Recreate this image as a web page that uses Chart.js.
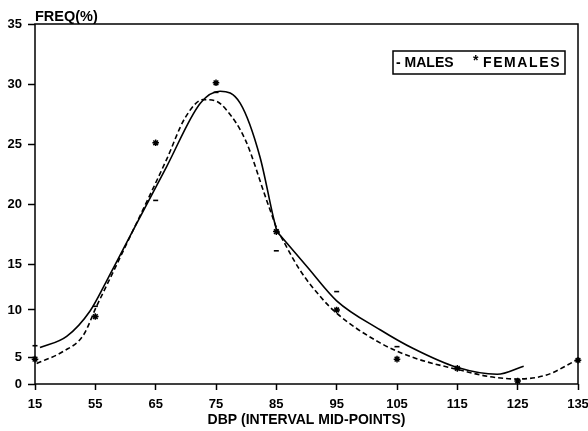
<!DOCTYPE html>
<html><head><meta charset="utf-8">
<script src="https://cdn.jsdelivr.net/npm/chart.js@4.4.0/dist/chart.umd.min.js"></script>
<style>html,body{margin:0;padding:0;background:#fff}#wrap{width:588px;height:431px;position:relative}</style>
</head><body><div id="wrap"><canvas id="c" width="588" height="431"></canvas></div>
<script>
// ---- data ----
const midPoints   = [15, 55, 65, 75, 85, 95, 105, 115, 125, 135];
const xTickLabels = ['15','55','65','75','85','95','105','115','125','135'];
const yTickValues = [0, 5, 10, 15, 20, 25, 30, 35];
const malesObs    = [6.2, 10.4, 20.3, 29.3, 16.1, 12.0, 6.1, 3.0, 0.8, null];
const femalesObs  = [4.6, 9.3, 25.1, 30.1, 17.7, 10.0, 4.6, 2.9, 0.55, 4.4];
// fitted curves (null = break in the curve at the kink at 85)
const maleFitX    = [18.3, 36.0, 51.5, 56.9, 61.25, 66.8, 72.4, 75.7, 79.0, 82.3, 84.5, 85.1, 85.1, 85.1, 90.1, 95.0, 102.2, 107.7, 114.9, 121.6, 126.0];
const maleFitY    = [6.0, 7.2, 9.9, 13.2, 17.8, 23.1, 28.4, 29.4, 28.4, 23.9, 18.9, 17.7, null, 17.7, 14.7, 11.0, 7.9, 5.9, 3.1, 1.8, 3.3];
const femaleFitX  = [16.1, 33.8, 47.0, 55.2, 56.9, 61.25, 66.8, 69.9, 72.9, 74.9, 76.8, 79.9, 83.4, 85.1, 85.1, 85.1, 88.9, 92.5, 95.0, 102.2, 107.7, 115.0, 120.4, 125.0, 129.8, 134.8];
const femaleFitY  = [3.8, 5.6, 7.3, 10.4, 12.7, 17.8, 23.7, 27.2, 28.7, 28.6, 27.8, 25.3, 20.3, 17.9, null, 17.9, 14.35, 11.3, 9.65, 6.5, 4.9, 2.7, 1.35, 0.93, 1.67, 4.44];

// ---- scale breaks (the original axes are not uniformly spaced) ----
const BREAKS = {
  x: { values: midPoints, fractions: midPoints.map((v, i) => i / (midPoints.length - 1)) },
  y: { values: [0, 5, 10, 15, 35], fractions: [0, 0.075, 0.2056, 0.3333, 1] }
};

class BreakScale extends Chart.LinearScale {
  _br() { return BREAKS[this.id]; }
  _dec(value) {
    const b = this._br(), bv = b.values, bf = b.fractions;
    let i = 0;
    while (i < bv.length - 2 && value > bv[i + 1]) i++;
    return bf[i] + (value - bv[i]) / (bv[i + 1] - bv[i]) * (bf[i + 1] - bf[i]);
  }
  getPixelForValue(value) {
    if (value === null || value === undefined || isNaN(value)) return NaN;
    return this.getPixelForDecimal(this._dec(value));
  }
  getValueForPixel(pixel) {
    const d = this.getDecimalForPixel(pixel);
    const b = this._br(), bv = b.values, bf = b.fractions;
    let i = 0;
    while (i < bf.length - 2 && d > bf[i + 1]) i++;
    return bv[i] + (d - bf[i]) / (bf[i + 1] - bf[i]) * (bv[i + 1] - bv[i]);
  }
}
BreakScale.id = 'breaks';
BreakScale.defaults = Chart.LinearScale.defaults;
Chart.register(BreakScale);

const FONT = "'Liberation Sans', Arial, Helvetica, sans-serif";
Chart.defaults.font.family = FONT;
Chart.defaults.color = '#000';

const toXY = (xs, ys) => xs.map((x, i) => ({ x, y: ys[i] }));

const decor = {
  id: 'decor',
  afterDraw(chart) {
    const { ctx, chartArea: a } = chart;
    ctx.save();
    ctx.strokeStyle = '#000';
    ctx.lineWidth = 1.5;
    ctx.strokeRect(a.left, a.top, a.right - a.left, a.bottom - a.top);
    ctx.fillStyle = '#000';
    ctx.textBaseline = 'middle';
    ctx.font = 'bold 14.5px ' + FONT;
    ctx.textAlign = 'left';
    ctx.fillText('FREQ(%)', 35, 17);
    ctx.font = 'bold 14px ' + FONT;
    ctx.textAlign = 'center';
    ctx.fillText('DBP (INTERVAL MID-POINTS)', (a.left + a.right) / 2, 420);
    // legend
    ctx.lineWidth = 1.5;
    ctx.strokeRect(393, 51, 172, 23);
    ctx.font = 'bold 14px ' + FONT;
    ctx.textAlign = 'left';
    ctx.fillText('- MALES', 396, 63);
    ctx.fillText('*', 473, 61);
    if ('letterSpacing' in ctx) ctx.letterSpacing = '1.6px';
    ctx.fillText('FEMALES', 483, 63);
    ctx.restore();
  }
};

new Chart(document.getElementById('c'), {
  type: 'line',
  data: {
    datasets: [
      { label: 'Males fit', data: toXY(maleFitX, maleFitY), borderColor: '#000', borderWidth: 1.6,
        pointRadius: 0, cubicInterpolationMode: 'monotone', fill: false, spanGaps: false },
      { label: 'Females fit', data: toXY(femaleFitX, femaleFitY), borderColor: '#000', borderWidth: 1.6,
        borderDash: [5, 3], pointRadius: 0, cubicInterpolationMode: 'monotone', fill: false, spanGaps: false },
      { label: 'MALES', data: toXY(midPoints, malesObs), showLine: false, pointStyle: 'line',
        pointRadius: 2.5, pointBorderWidth: 1.6, pointBorderColor: '#000', clip: false },
      { label: 'FEMALES', data: toXY(midPoints, femalesObs), showLine: false, pointStyle: 'star',
        pointRadius: 3.3, pointBorderWidth: 1.5, pointBorderColor: '#000', clip: false }
    ]
  },
  options: {
    responsive: false,
    animation: false,
    devicePixelRatio: 1,
    layout: { padding: { top: 24, right: 10, left: 0, bottom: 0 } },
    plugins: { legend: { display: false }, tooltip: { enabled: false } },
    scales: {
      x: {
        type: 'breaks', min: 15, max: 135,
        afterBuildTicks: s => { s.ticks = midPoints.map(v => ({ value: v })); },
        afterFit: s => { s.height = 47; s.paddingLeft = 0; s.paddingRight = 0; },
        border: { display: false },
        grid: { drawOnChartArea: false, drawTicks: true, tickLength: 6, tickColor: '#000', tickWidth: 1.5 },
        ticks: { padding: 7, maxRotation: 0, autoSkip: false, font: { size: 13, weight: 'bold' }, color: '#000',
          callback: (v) => xTickLabels[midPoints.indexOf(v)] }
      },
      y: {
        type: 'breaks', min: 0, max: 35,
        afterBuildTicks: s => { s.ticks = yTickValues.map(v => ({ value: v })); },
        afterFit: s => { s.width = 35; s.paddingTop = 0; s.paddingBottom = 0; },
        border: { display: false },
        grid: { drawOnChartArea: false, drawTicks: true, tickLength: 7, tickColor: '#000', tickWidth: 1.5 },
        ticks: { padding: 6, font: { size: 13, weight: 'bold' }, color: '#000', callback: v => String(v) }
      }
    }
  },
  plugins: [decor]
});
</script>
</body></html>
